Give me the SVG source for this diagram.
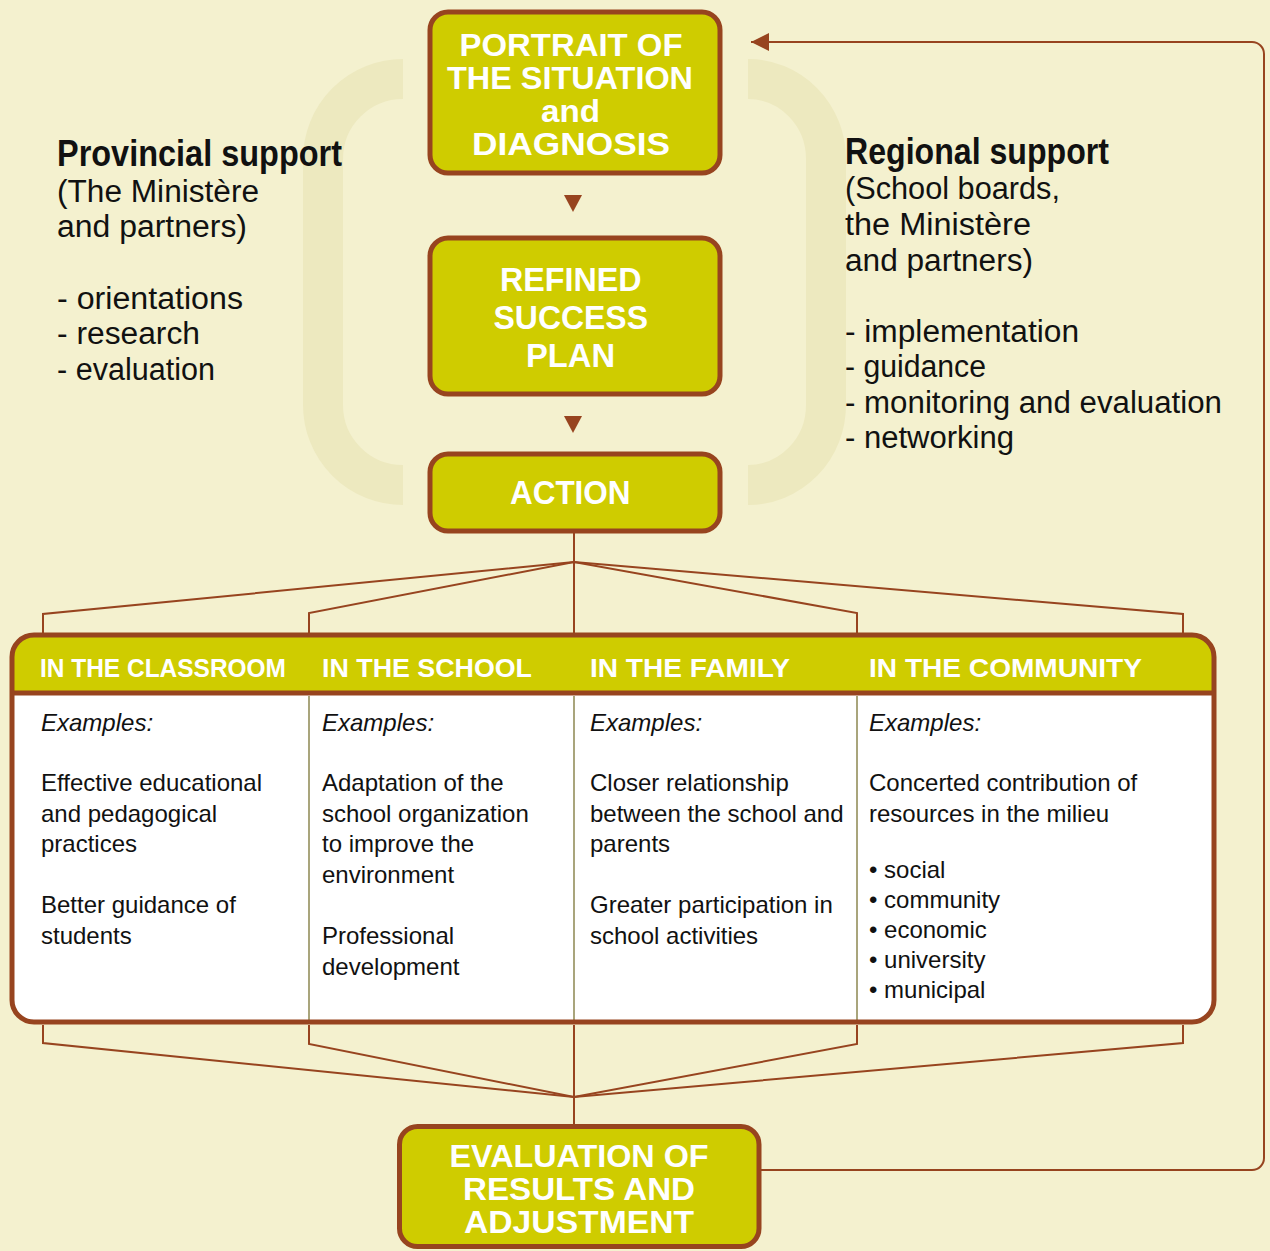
<svg xmlns="http://www.w3.org/2000/svg" width="1270" height="1251" viewBox="0 0 1270 1251">
<defs>
<style>
.bg{fill:#F4F1CF}
.brk{fill:none;stroke:#EDE9BF;stroke-width:40}
.box{fill:#CFCC00;stroke:#97441F;stroke-width:5}
.bt{font-family:"Liberation Sans",Arial,sans-serif;font-weight:bold;fill:#FFFFFF}
.ln{fill:none;stroke:#97441F;stroke-width:2}
.tri{fill:#97441F}
.hd{font-family:"Liberation Sans",Arial,sans-serif;font-weight:bold;font-size:36px;fill:#111111}
.sd{font-family:"Liberation Sans",Arial,sans-serif;font-size:31px;fill:#111111}
.ht{font-family:"Liberation Sans",Arial,sans-serif;font-weight:bold;font-size:26px;fill:#FFFFFF}
.tx{font-family:"Liberation Sans",Arial,sans-serif;font-size:24px;fill:#111111}
.ex{font-style:italic}
.div{stroke:#A9A57C;stroke-width:2}
</style>
<marker id="ah" markerUnits="userSpaceOnUse" viewBox="0 0 18 18" markerWidth="18" markerHeight="18" refX="18" refY="9" orient="auto">
<path d="M0,0 L18,9 L0,18 Z" fill="#97441F"/>
</marker>
</defs>
<rect class="bg" x="0" y="0" width="1270" height="1251"/>

<g id="brackets">
<path class="brk" d="M403,79 A80,80 0 0 0 323,159 V405 A80,80 0 0 0 403,485"/>
<path class="brk" d="M748,79 A78,80 0 0 1 826,159 V405 A78,80 0 0 1 748,485"/>
</g>

<g id="provincial-support">
<text class="hd" x="57" y="166" textLength="285" lengthAdjust="spacingAndGlyphs">Provincial support</text>
<text class="sd" x="57" y="202" textLength="202" lengthAdjust="spacingAndGlyphs">(The Ministère</text>
<text class="sd" x="57" y="237" textLength="190" lengthAdjust="spacingAndGlyphs">and partners)</text>
<text class="sd" x="57" y="309" textLength="186" lengthAdjust="spacingAndGlyphs">- orientations</text>
<text class="sd" x="57" y="344" textLength="143" lengthAdjust="spacingAndGlyphs">- research</text>
<text class="sd" x="57" y="380" textLength="158" lengthAdjust="spacingAndGlyphs">- evaluation</text>
</g>

<g id="regional-support">
<text class="hd" x="845" y="164" textLength="264" lengthAdjust="spacingAndGlyphs">Regional support</text>
<text class="sd" x="845" y="199" textLength="215" lengthAdjust="spacingAndGlyphs">(School boards,</text>
<text class="sd" x="845" y="235" textLength="186" lengthAdjust="spacingAndGlyphs">the Ministère</text>
<text class="sd" x="845" y="271" textLength="188" lengthAdjust="spacingAndGlyphs">and partners)</text>
<text class="sd" x="845" y="342" textLength="234" lengthAdjust="spacingAndGlyphs">- implementation</text>
<text class="sd" x="845" y="377" textLength="141" lengthAdjust="spacingAndGlyphs">- guidance</text>
<text class="sd" x="845" y="413" textLength="377" lengthAdjust="spacingAndGlyphs">- monitoring and evaluation</text>
<text class="sd" x="845" y="448" textLength="169" lengthAdjust="spacingAndGlyphs">- networking</text>
</g>

<g id="connectors">
<polygon class="tri" points="564,195 582,195 573,212"/>
<polygon class="tri" points="564,416 582,416 573,433"/>
<path class="ln" d="M574,533 V633"/>
<path class="ln" d="M43,633 V614 L574,562 L1183,614 V633"/>
<path class="ln" d="M309,633 V613 L574,562 L857,613 V633"/>
<path class="ln" d="M574,1025 V1125"/>
<path class="ln" d="M43,1025 V1043 L574,1097 L1183,1043 V1025"/>
<path class="ln" d="M309,1025 V1044 L574,1097 L857,1044 V1025"/>
<path class="ln" d="M761,1170 H1252 A12,12 0 0 0 1264,1158 V54 A12,12 0 0 0 1252,42 H751" marker-end="url(#ah)"/>
</g>

<g id="portrait">
<rect class="box" x="430" y="12" width="290" height="161" rx="18"/>
<text class="bt" font-size="32" x="459.5" y="56" textLength="223" lengthAdjust="spacingAndGlyphs">PORTRAIT OF</text>
<text class="bt" font-size="32" x="447" y="89" textLength="246" lengthAdjust="spacingAndGlyphs">THE SITUATION</text>
<text class="bt" font-size="32" x="541" y="122" textLength="59" lengthAdjust="spacingAndGlyphs">and</text>
<text class="bt" font-size="32" x="472" y="155" textLength="198" lengthAdjust="spacingAndGlyphs">DIAGNOSIS</text>
</g>

<g id="refined-plan">
<rect class="box" x="430" y="238" width="290" height="156" rx="18"/>
<text class="bt" font-size="34" x="500" y="291" textLength="141.5" lengthAdjust="spacingAndGlyphs">REFINED</text>
<text class="bt" font-size="34" x="493.5" y="329" textLength="154.5" lengthAdjust="spacingAndGlyphs">SUCCESS</text>
<text class="bt" font-size="34" x="526" y="367" textLength="89" lengthAdjust="spacingAndGlyphs">PLAN</text>
</g>

<g id="action">
<rect class="box" x="430" y="454" width="290" height="77" rx="18"/>
<text class="bt" font-size="34" x="510" y="504" textLength="120.5" lengthAdjust="spacingAndGlyphs">ACTION</text>
</g>

<g id="action-table">
<rect x="12" y="635" width="1202" height="387" rx="22" fill="#FFFFFF"/>
<path d="M12,693 V657 A22,22 0 0 1 34,635 H1192 A22,22 0 0 1 1214,657 V693 Z" fill="#CFCC00"/>
<line x1="12" y1="693" x2="1214" y2="693" stroke="#97441F" stroke-width="5"/>
<line class="div" x1="309" y1="696" x2="309" y2="1020"/>
<line class="div" x1="574" y1="696" x2="574" y2="1020"/>
<line class="div" x1="857" y1="696" x2="857" y2="1020"/>
<rect x="12" y="635" width="1202" height="387" rx="22" fill="none" stroke="#97441F" stroke-width="5"/>
</g>

<g id="classroom">
<text class="ht" x="40" y="677" textLength="246" lengthAdjust="spacingAndGlyphs">IN THE CLASSROOM</text>
<text class="tx ex" x="41" y="731">Examples:</text>
<text class="tx" x="41" y="791">Effective educational</text>
<text class="tx" x="41" y="822">and pedagogical</text>
<text class="tx" x="41" y="852">practices</text>
<text class="tx" x="41" y="913">Better guidance of</text>
<text class="tx" x="41" y="944">students</text>
</g>

<g id="school">
<text class="ht" x="322" y="677" textLength="210" lengthAdjust="spacingAndGlyphs">IN THE SCHOOL</text>
<text class="tx ex" x="322" y="731">Examples:</text>
<text class="tx" x="322" y="791">Adaptation of the</text>
<text class="tx" x="322" y="822">school organization</text>
<text class="tx" x="322" y="852">to improve the</text>
<text class="tx" x="322" y="883">environment</text>
<text class="tx" x="322" y="944">Professional</text>
<text class="tx" x="322" y="975">development</text>
</g>

<g id="family">
<text class="ht" x="590" y="677" textLength="200" lengthAdjust="spacingAndGlyphs">IN THE FAMILY</text>
<text class="tx ex" x="590" y="731">Examples:</text>
<text class="tx" x="590" y="791">Closer relationship</text>
<text class="tx" x="590" y="822">between the school and</text>
<text class="tx" x="590" y="852">parents</text>
<text class="tx" x="590" y="913">Greater participation in</text>
<text class="tx" x="590" y="944">school activities</text>
</g>

<g id="community">
<text class="ht" x="869" y="677" textLength="273" lengthAdjust="spacingAndGlyphs">IN THE COMMUNITY</text>
<text class="tx ex" x="869" y="731">Examples:</text>
<text class="tx" x="869" y="791">Concerted contribution of</text>
<text class="tx" x="869" y="822">resources in the milieu</text>
<text class="tx" x="869" y="878">• social</text>
<text class="tx" x="869" y="908">• community</text>
<text class="tx" x="869" y="938">• economic</text>
<text class="tx" x="869" y="968">• university</text>
<text class="tx" x="869" y="998">• municipal</text>
</g>

<g id="evaluation">
<rect class="box" x="399.5" y="1126.5" width="359.5" height="120" rx="18"/>
<text class="bt" font-size="32" x="449.5" y="1167" textLength="259" lengthAdjust="spacingAndGlyphs">EVALUATION OF</text>
<text class="bt" font-size="32" x="463" y="1200" textLength="232" lengthAdjust="spacingAndGlyphs">RESULTS AND</text>
<text class="bt" font-size="32" x="464" y="1233" textLength="230" lengthAdjust="spacingAndGlyphs">ADJUSTMENT</text>
</g>
</svg>
